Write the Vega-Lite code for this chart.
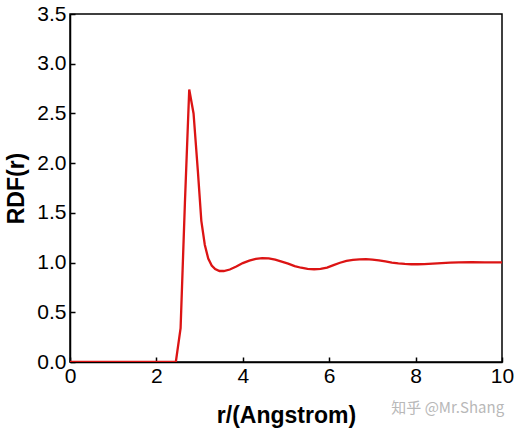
{
  "$schema": "https://vega.github.io/schema/vega-lite/v6.json",
  "width": 432,
  "height": 348,
  "autosize": "none",
  "padding": {"left": 70, "top": 14, "right": 17, "bottom": 71},
  "background": "white",
  "config": {
    "view": {"stroke": "black", "strokeWidth": 1.5},
    "axis": {
      "grid": false,
      "domainColor": "black",
      "domainWidth": 1.5,
      "tickColor": "black",
      "tickWidth": 1.5,
      "tickSize": -5,
      "labelColor": "black",
      "labelFont": "Liberation Sans",
      "labelFontSize": 21,
      "labelFlush": false,
      "labelOverlap": false,
      "titleFont": "Liberation Sans",
      "titleFontSize": 23,
      "titleFontWeight": "bold",
      "titleColor": "black"
    }
  },
  "data": {
    "values": [
      {"r": 0, "g": 0},
      {"r": 2.45, "g": 0},
      {"r": 2.56, "g": 0.34},
      {"r": 2.66, "g": 1.6},
      {"r": 2.76, "g": 2.74},
      {"r": 2.86, "g": 2.5},
      {"r": 2.96, "g": 1.92},
      {"r": 3.04, "g": 1.42},
      {"r": 3.12, "g": 1.18},
      {"r": 3.2, "g": 1.04},
      {"r": 3.28, "g": 0.97},
      {"r": 3.36, "g": 0.935},
      {"r": 3.46, "g": 0.915},
      {"r": 3.56, "g": 0.915},
      {"r": 3.7, "g": 0.93},
      {"r": 3.85, "g": 0.96},
      {"r": 4.0, "g": 0.995},
      {"r": 4.15, "g": 1.02},
      {"r": 4.3, "g": 1.037},
      {"r": 4.45, "g": 1.045},
      {"r": 4.6, "g": 1.043},
      {"r": 4.75, "g": 1.03},
      {"r": 4.9, "g": 1.01},
      {"r": 5.05, "g": 0.99},
      {"r": 5.2, "g": 0.965},
      {"r": 5.35, "g": 0.948},
      {"r": 5.5, "g": 0.937},
      {"r": 5.65, "g": 0.933},
      {"r": 5.8, "g": 0.937},
      {"r": 5.95, "g": 0.95},
      {"r": 6.1, "g": 0.975},
      {"r": 6.25, "g": 0.998},
      {"r": 6.4, "g": 1.017},
      {"r": 6.55, "g": 1.028},
      {"r": 6.7, "g": 1.033},
      {"r": 6.85, "g": 1.034},
      {"r": 7.0, "g": 1.03},
      {"r": 7.15, "g": 1.022},
      {"r": 7.3, "g": 1.011},
      {"r": 7.45, "g": 1.0},
      {"r": 7.6, "g": 0.992},
      {"r": 7.75, "g": 0.986},
      {"r": 7.9, "g": 0.983},
      {"r": 8.05, "g": 0.983},
      {"r": 8.2, "g": 0.985},
      {"r": 8.4, "g": 0.99},
      {"r": 8.6, "g": 0.995},
      {"r": 8.8, "g": 0.999},
      {"r": 9.0, "g": 1.002},
      {"r": 9.3, "g": 1.003},
      {"r": 9.6, "g": 1.002},
      {"r": 10, "g": 1.002}
    ]
  },
  "layer": [
    {
      "mark": {"type": "line", "color": "#dc1414", "strokeWidth": 2.3, "clip": true},
      "encoding": {
        "x": {
          "field": "r",
          "type": "quantitative",
          "scale": {"domain": [0, 10], "nice": false},
          "axis": {"values": [0, 2, 4, 6, 8, 10], "title": "r/(Angstrom)", "labelPadding": 8, "titlePadding": 18}
        },
        "y": {
          "field": "g",
          "type": "quantitative",
          "scale": {"domain": [0, 3.5], "nice": false},
          "axis": {"values": [0, 0.5, 1, 1.5, 2, 2.5, 3, 3.5], "format": ".1f", "title": "RDF(r)", "labelPadding": 9, "titlePadding": 8}
        }
      }
    },
    {
      "data": {"values": [{"r": 10.05, "g": -0.46, "t": "知乎 @Mr.Shang"}]},
      "mark": {"type": "text", "align": "right", "baseline": "middle", "color": "#b8b8b8", "font": "Noto Sans CJK SC", "fontSize": 15, "clip": false},
      "encoding": {
        "x": {"field": "r", "type": "quantitative"},
        "y": {"field": "g", "type": "quantitative"},
        "text": {"field": "t"}
      }
    }
  ]
}
